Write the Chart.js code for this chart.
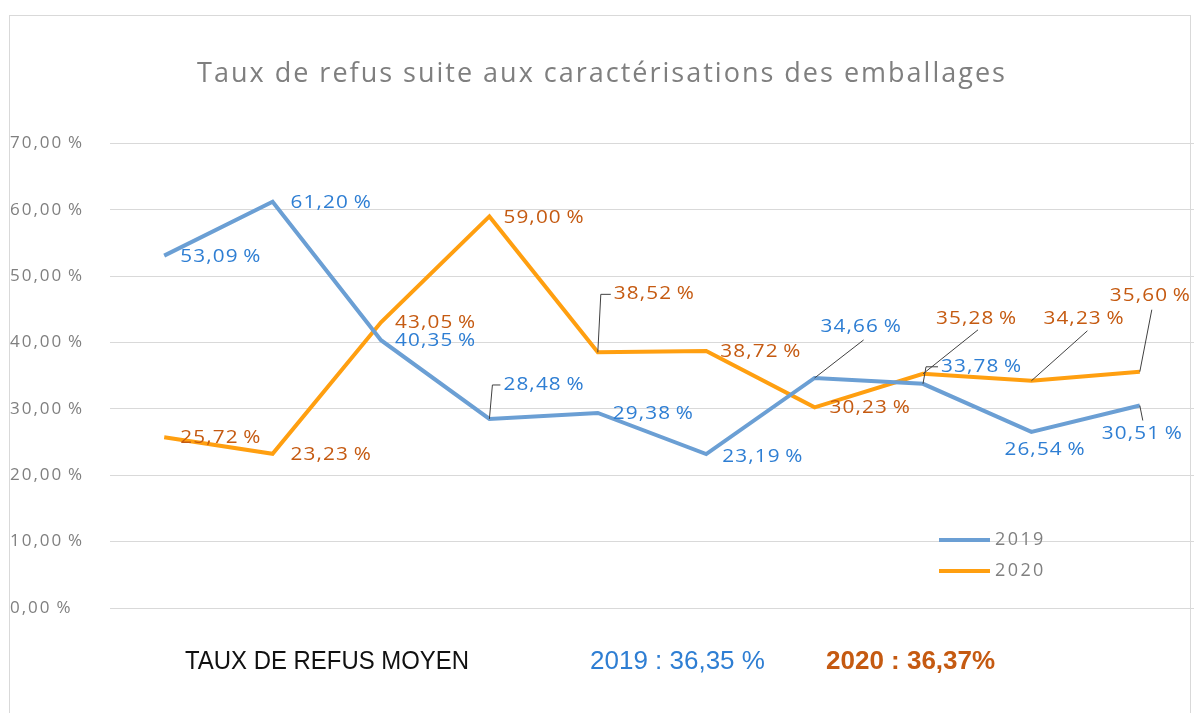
<!DOCTYPE html>
<html lang="fr">
<head>
<meta charset="utf-8">
<script src="https://cdn.jsdelivr.net/npm/chart.js@4/dist/chart.umd.min.js"></script>
<style>
  html, body { margin: 0; padding: 0; background: #fff; }
  #wrap { position: relative; width: 1195px; height: 713px; }
  #frame { position: absolute; left: 9px; top: 15px; width: 1182px; height: 720px; border: 1px solid #d9d9d9; box-sizing: border-box; }
  .moyen { position: absolute; top: 645px; font-family: 'Liberation Sans', sans-serif; font-size: 26px; white-space: nowrap; }
  #titreMoyen { transform: scaleX(0.92); transform-origin: left center; }
</style>
</head>
<body>
<div id="wrap">
  <div id="frame"></div>
  <canvas id="graficaRefus" width="1195" height="713"></canvas>
  <div class="moyen" id="titreMoyen" style="left:185px;color:#111;">TAUX DE REFUS MOYEN</div>
  <div class="moyen" id="moy2019" style="left:590px;color:#2e7ed3;"></div>
  <div class="moyen" id="moy2020" style="left:826px;color:#c55a11;font-weight:bold;"></div>
</div>
<script>
// Données
const periodes = ['1', '2', '3', '4', '5', '6', '7', '8', '9', '10'];
const annees = ['2019', '2020'];
const taux2019 = [53.09, 61.20, 40.35, 28.48, 29.38, 23.19, 34.66, 33.78, 26.54, 30.51];
const taux2020 = [25.72, 23.23, 43.05, 59.00, 38.52, 38.72, 30.23, 35.28, 34.23, 35.60];
const moyennes = ['2019 : 36,35 %', '2020 : 36,37%'];

document.getElementById('moy2019').textContent = moyennes[0];
document.getElementById('moy2020').textContent = moyennes[1];

// espace fine avant le %
const fmt = v => v.toFixed(2).replace('.', ',') + '\u2009%';

// position des étiquettes : décalage depuis le point, et ligne de rappel éventuelle
// lead: 'elbow' = vertical puis horizontal ; 'line' = trait direct vers [lx, ly]
const pos2019 = [
    { dx: 16, dy: 1 }, { dx: 18, dy: 1 }, { dx: 14, dy: 1 },
    { dx: 14, dy: -34, lead: 'elbow' }, { dx: 15, dy: 1 }, { dx: 16, dy: 3 },
    { dx: 6, dy: -51, lead: 'line', lx: 49, ly: -38 },
    { dx: 18, dy: -17, lead: 'elbow' },
    { dx: -27, dy: 18 },
    { dx: -38, dy: 28, lead: 'line', lx: 3, ly: 15 }
];
const pos2020 = [
    { dx: 16, dy: 1 }, { dx: 18, dy: 1 }, { dx: 14, dy: 1 }, { dx: 14, dy: 1 },
    { dx: 16, dy: -58, lead: 'elbow' }, { dx: 14, dy: 1 }, { dx: 15, dy: 1 },
    { dx: 13, dy: -55, lead: 'line', lx: 55, ly: -44 },
    { dx: 12, dy: -62, lead: 'line', lx: 56, ly: -50 },
    { dx: -30, dy: -76, lead: 'line', lx: 12, ly: -62 }
];

const etiquettes = {
    id: 'etiquettes',
    beforeDraw(chart) {
        // texte un peu étiré comme dans l'original
        chart.ctx.letterSpacing = '2px';
    },
    afterDatasetsDraw(chart) {
        const ctx = chart.ctx;
        ctx.save();
        chart.data.datasets.forEach((ds, di) => {
            const meta = chart.getDatasetMeta(di);
            meta.data.forEach((pt, i) => {
                const p = ds.positions[i];
                const tx = pt.x + p.dx, ty = pt.y + p.dy;
                if (p.lead) {
                    ctx.strokeStyle = '#404040';
                    ctx.lineWidth = 1;
                    ctx.beginPath();
                    ctx.moveTo(pt.x, pt.y);
                    if (p.lead === 'elbow') {
                        ctx.lineTo(pt.x + 3, ty);
                        ctx.lineTo(tx - 3, ty);
                    } else {
                        ctx.lineTo(pt.x + p.lx, pt.y + p.ly);
                    }
                    ctx.stroke();
                }
                ctx.save();
                ctx.translate(tx, ty);
                ctx.scale(1.15, 1);
                ctx.font = "18px 'Open Sans'";
                ctx.letterSpacing = '1px';
                ctx.fillStyle = ds.labelColor;
                ctx.textAlign = 'left';
                ctx.textBaseline = 'middle';
                ctx.fillText(fmt(ds.data[i]), 0, 0);
                ctx.restore();
            });
        });

        // légende
        ctx.letterSpacing = '2.4px';
        chart.data.datasets.forEach((ds, di) => {
            const y = 540 + di * 31;
            ctx.strokeStyle = ds.borderColor;
            ctx.lineWidth = 4;
            ctx.beginPath();
            ctx.moveTo(939, y);
            ctx.lineTo(990, y);
            ctx.stroke();
            ctx.fillStyle = '#808080';
            ctx.font = "18px 'Open Sans'";
            ctx.textBaseline = 'middle';
            ctx.fillText(ds.label, 995, y);
        });
        ctx.restore();
    }
};

new Chart(document.getElementById('graficaRefus').getContext('2d'), {
    type: 'line',
    data: {
        labels: periodes,
        datasets: [{
            label: annees[0],
            data: taux2019,
            borderColor: '#6b9fd4',
            labelColor: '#2e7ed3',
            positions: pos2019,
            borderWidth: 4,
            pointRadius: 0,
            tension: 0
        }, {
            label: annees[1],
            data: taux2020,
            borderColor: '#ff9f10',
            labelColor: '#c55a11',
            positions: pos2020,
            borderWidth: 4,
            pointRadius: 0,
            tension: 0
        }]
    },
    plugins: [etiquettes],
    options: {
        responsive: false,
        animation: false,
        layout: { padding: { left: 10, right: 1, top: 0, bottom: 97 } },
        scales: {
            x: {
                offset: true,
                grid: { display: false },
                border: { display: false },
                ticks: { display: false }
            },
            y: {
                min: 0,
                max: 70,
                afterFit: scale => { scale.width = 100; },
                grid: { color: '#d9d9d9', drawTicks: false },
                border: { display: false },
                ticks: {
                    stepSize: 10,
                    crossAlign: 'far',
                    padding: 8,
                    color: '#7f7f7f',
                    font: { family: "'Open Sans'", size: 17 },
                    callback: v => v.toFixed(2).replace('.', ',') + '\u2009%'
                }
            }
        },
        plugins: {
            legend: { display: false },
            tooltip: { enabled: false },
            title: {
                display: true,
                text: 'Taux de refus suite aux caractérisations des emballages',
                color: '#7f7f7f',
                font: { family: "'Open Sans'", size: 27, weight: 'normal' },
                padding: { top: 58, bottom: 53 }
            }
        }
    }
});
</script>
</body>
</html>
